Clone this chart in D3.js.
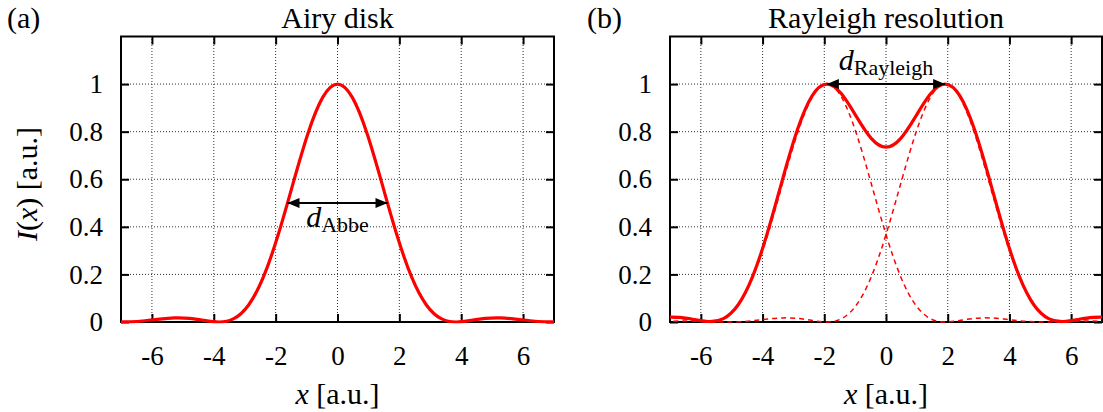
<!DOCTYPE html>
<html>
<head>
<meta charset="utf-8">
<script src="https://cdn.jsdelivr.net/npm/d3@7"></script>
<style>
  html, body { margin: 0; padding: 0; background: #fff; }
  svg { display: block; }
  svg text { font-family: "Liberation Serif", "Times New Roman", serif; }
</style>
</head>
<body>
<svg id="chart" width="1103" height="412"></svg>
<script>
// Axis ticks
const xTicks = [-6, -4, -2, 0, 2, 4, 6];
const xTickLabels = ["-6", "-4", "-2", "0", "2", "4", "6"];
const yTicks = [0, 0.2, 0.4, 0.6, 0.8, 1];
const yTickLabels = ["0", "0.2", "0.4", "0.6", "0.8", "1"];

// Sample positions along x [a.u.]
const sampleX = [-7.184, -6.705, -6.227, -5.748, -5.269, -4.790, -4.311, -3.832,
  -3.353, -2.874, -2.395, -1.916, -1.437, -0.958, -0.479, 0,
  0.479, 0.958, 1.437, 1.916, 2.395, 2.874, 3.353, 3.832,
  4.311, 4.790, 5.269, 5.748, 6.227, 6.705, 7.184];

// (a) single Airy pattern
const airyDisk = [0.0002, 0.0008, 0.0053, 0.0123, 0.0172, 0.0153, 0.0066, 0.0000,
  0.0141, 0.0717, 0.1895, 0.3675, 0.5825, 0.7914, 0.9440, 1.0000,
  0.9440, 0.7914, 0.5825, 0.3675, 0.1895, 0.0717, 0.0141, 0.0000,
  0.0066, 0.0153, 0.0172, 0.0123, 0.0053, 0.0008, 0.0002];

// (b) two point sources and their summed image
const rayleighLeft = [0.0172, 0.0153, 0.0066, 0.0000, 0.0141, 0.0717, 0.1895, 0.3675,
  0.5825, 0.7914, 0.9440, 1.0000, 0.9440, 0.7914, 0.5825, 0.3675,
  0.1895, 0.0717, 0.0141, 0.0000, 0.0066, 0.0153, 0.0172, 0.0123,
  0.0053, 0.0008, 0.0002, 0.0020, 0.0038, 0.0040, 0.0026];
const rayleighRight = [0.0026, 0.0040, 0.0038, 0.0020, 0.0002, 0.0008, 0.0053, 0.0123,
  0.0172, 0.0153, 0.0066, 0.0000, 0.0141, 0.0717, 0.1895, 0.3675,
  0.5825, 0.7914, 0.9440, 1.0000, 0.9440, 0.7914, 0.5825, 0.3675,
  0.1895, 0.0717, 0.0141, 0.0000, 0.0066, 0.0153, 0.0172];
const rayleighSum = [0.0198, 0.0193, 0.0104, 0.0020, 0.0143, 0.0725, 0.1948, 0.3798,
  0.5997, 0.8067, 0.9506, 1.0000, 0.9581, 0.8631, 0.7720, 0.7350,
  0.7720, 0.8631, 0.9581, 1.0000, 0.9506, 0.8067, 0.5997, 0.3798,
  0.1948, 0.0725, 0.0143, 0.0020, 0.0104, 0.0193, 0.0198];

// Resolution markers
const abbeSpan = [-1.616, 1.616];
const abbeLevel = 0.5;
const abbeLabelLevel = 0.398;
const rayleighSpan = [-1.916, 1.916];
const rayleighLevel = 1;
const rayleighLabelLevel = 1.06;

const panelTitles = ["Airy disk", "Rayleigh resolution"];
const panelTags = ["(a)", "(b)"];

const FONT = "Liberation Serif";
const svg = d3.select("#chart");
const RED = "#ff0000";

// arrowhead marker shared by both panels
svg.append("defs").append("marker")
  .attr("id", "head")
  .attr("viewBox", "0 0 12 10")
  .attr("refX", 12).attr("refY", 5)
  .attr("markerWidth", 12).attr("markerHeight", 10)
  .attr("markerUnits", "userSpaceOnUse")
  .attr("orient", "auto-start-reverse")
  .append("path").attr("d", "M0,0 L12,5 L0,10 Z").attr("fill", "#000");

function drawPanel(idx, box, series, span, level, labelLevel, subscript) {
  const x = d3.scaleLinear().domain([-7, 7]).range([box.left, box.right]);
  const y = d3.scaleLinear().domain([0, 1.2]).range([box.bottom, box.top]);
  const g = svg.append("g");

  // dotted grid
  g.append("g").selectAll("line").data(xTicks).join("line")
    .attr("x1", d => x(d)).attr("x2", d => x(d))
    .attr("y1", y(0)).attr("y2", y(1.2))
    .attr("stroke", "#333").attr("stroke-width", 1).attr("stroke-dasharray", "1,2");
  g.append("g").selectAll("line").data(yTicks.filter(d => d > 0)).join("line")
    .attr("x1", x(-7)).attr("x2", x(7))
    .attr("y1", d => y(d)).attr("y2", d => y(d))
    .attr("stroke", "#333").attr("stroke-width", 1).attr("stroke-dasharray", "1,2");

  // axes with inward ticks
  const styleAxis = sel => {
    sel.attr("font-family", FONT).attr("font-size", 27);
    sel.select(".domain").remove();
    sel.selectAll(".tick line").attr("stroke", "#000").attr("stroke-width", 2);
    sel.selectAll(".tick text").attr("fill", "#000").attr("font-family", FONT);
  };
  g.append("g").attr("transform", `translate(0,${box.bottom})`)
    .call(d3.axisBottom(x).tickValues(xTicks).tickSizeInner(-8).tickSizeOuter(0)
      .tickPadding(24).tickFormat((d, i) => xTickLabels[i]))
    .call(styleAxis);
  g.append("g").attr("transform", `translate(0,${box.top})`)
    .call(d3.axisTop(x).tickValues(xTicks).tickSizeInner(-8).tickSizeOuter(0).tickFormat(""))
    .call(styleAxis);
  g.append("g").attr("transform", `translate(${box.left},0)`)
    .call(d3.axisLeft(y).tickValues(yTicks).tickSizeInner(-8).tickSizeOuter(0)
      .tickPadding(18).tickFormat((d, i) => yTickLabels[i]))
    .call(styleAxis);
  g.append("g").attr("transform", `translate(${box.right},0)`)
    .call(d3.axisRight(y).tickValues(yTicks).tickSizeInner(-8).tickSizeOuter(0).tickFormat(""))
    .call(styleAxis);

  // frame
  g.append("rect")
    .attr("x", box.left).attr("y", box.top)
    .attr("width", box.right - box.left).attr("height", box.bottom - box.top)
    .attr("fill", "none").attr("stroke", "#000").attr("stroke-width", 2);

  // curves, clipped to the plot area
  const clipId = "clip" + idx;
  svg.select("defs").append("clipPath").attr("id", clipId)
    .append("rect").attr("x", box.left).attr("y", box.top - 2)
    .attr("width", box.right - box.left).attr("height", box.bottom - box.top + 3.5);
  const line = d3.line().x((d, i) => x(sampleX[i])).y(d => y(d)).curve(d3.curveNatural);
  const curves = g.append("g").attr("clip-path", `url(#${clipId})`);
  series.forEach(s => {
    curves.append("path").datum(s.values)
      .attr("d", line)
      .attr("fill", "none").attr("stroke", RED)
      .attr("stroke-width", s.dashed ? 1.5 : 3.2)
      .attr("stroke-dasharray", s.dashed ? "5,4" : null)
      .attr("stroke-linejoin", "round");
  });

  // resolution arrow
  g.append("line")
    .attr("x1", x(span[0])).attr("x2", x(span[1]))
    .attr("y1", y(level)).attr("y2", y(level))
    .attr("stroke", "#000").attr("stroke-width", 2)
    .attr("marker-start", "url(#head)").attr("marker-end", "url(#head)");
  const lbl = g.append("text")
    .attr("x", x(0)).attr("y", y(labelLevel))
    .attr("text-anchor", "middle").attr("fill", "#000").attr("font-family", FONT);
  lbl.append("tspan").attr("font-style", "italic").attr("font-size", 30).text("d");
  lbl.append("tspan").attr("font-size", 22).attr("dy", 5).text(subscript);

  // titles
  svg.append("text").attr("x", (box.left + box.right) / 2).attr("y", 28)
    .attr("text-anchor", "middle").attr("font-size", 30).attr("font-family", FONT)
    .text(panelTitles[idx]);
  svg.append("text").attr("x", box.tag).attr("y", 28)
    .attr("font-size", 30).attr("font-family", FONT).text(panelTags[idx]);

  // x axis title
  const xl = svg.append("text").attr("x", (box.left + box.right) / 2).attr("y", 404)
    .attr("text-anchor", "middle").attr("font-size", 30).attr("font-family", FONT);
  xl.append("tspan").attr("font-style", "italic").text("x");
  xl.append("tspan").text(" [a.u.]");
}

const panelA = { left: 121, right: 554, top: 36.5, bottom: 322, tag: 7 };
const panelB = { left: 670, right: 1102, top: 36.5, bottom: 322, tag: 587 };

drawPanel(0, panelA, [{ values: airyDisk, dashed: false }], abbeSpan, abbeLevel, abbeLabelLevel, "Abbe");
drawPanel(1, panelB, [
  { values: rayleighLeft, dashed: true },
  { values: rayleighRight, dashed: true },
  { values: rayleighSum, dashed: false }
], rayleighSpan, rayleighLevel, rayleighLabelLevel, "Rayleigh");

// y axis title for the left panel
const yl = svg.append("text")
  .attr("transform", "translate(37,184) rotate(-90)")
  .attr("text-anchor", "middle").attr("font-size", 30).attr("font-family", FONT);
yl.append("tspan").attr("font-style", "italic").text("I");
yl.append("tspan").text("(");
yl.append("tspan").attr("font-style", "italic").text("x");
yl.append("tspan").text(") [a.u.]");
</script>
</body>
</html>
